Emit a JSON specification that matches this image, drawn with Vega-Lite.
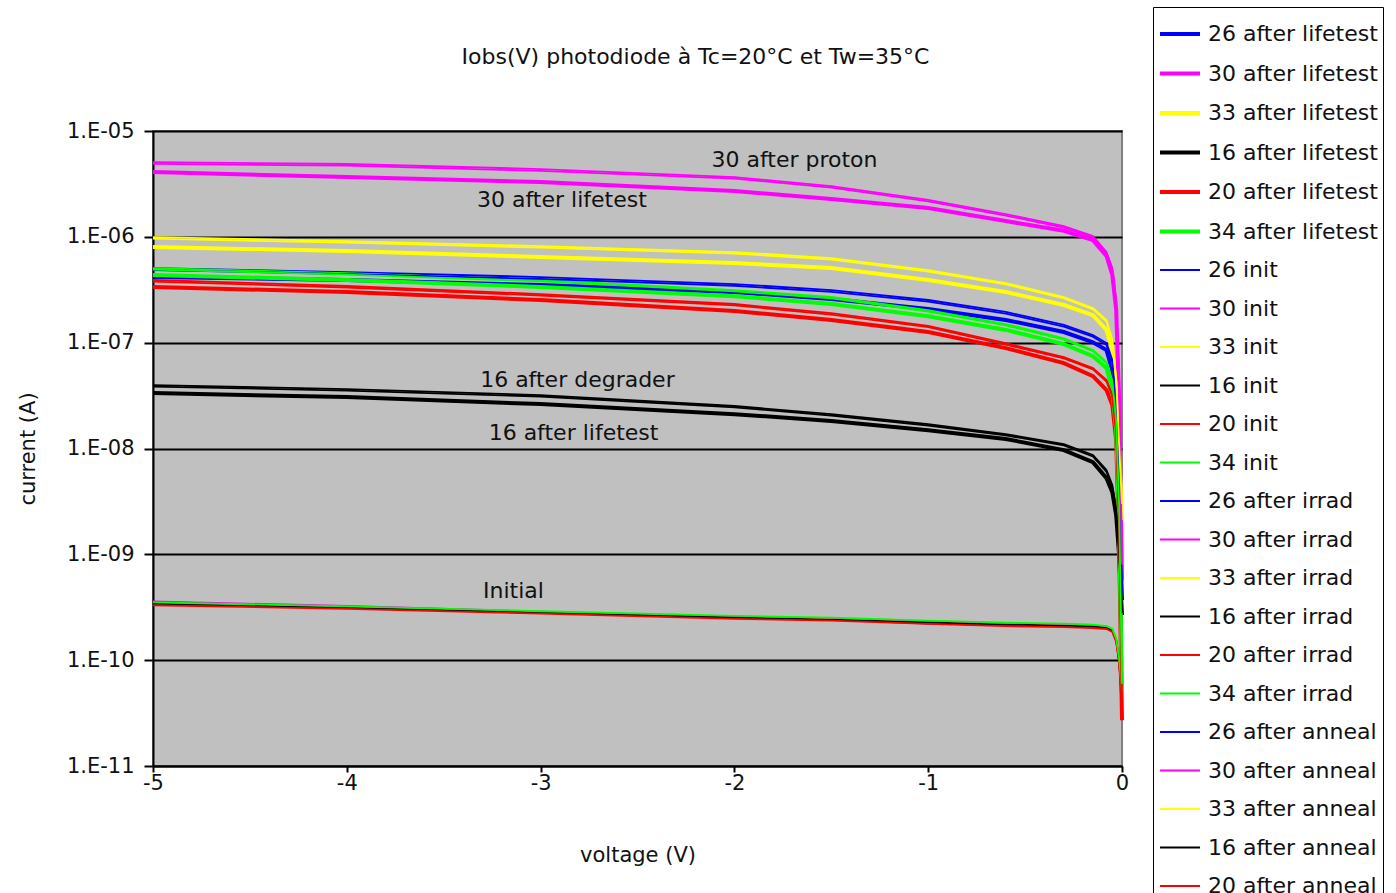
{
  "$schema": "https://vega.github.io/schema/vega-lite/v6.json",
  "autosize": "none",
  "width": 969,
  "height": 635,
  "padding": {"left": 153, "top": 131, "right": 274, "bottom": 127},
  "background": "white",
  "title": {"text": "Iobs(V) photodiode à Tc=20°C et Tw=35°C", "fontSize": 22, "font": "DejaVu Sans", "fontWeight": "normal", "color": "#111", "anchor": "middle", "frame": "group", "dx": 58, "offset": -62},
  "config": {
    "view": {"stroke": "#808080", "strokeWidth": 2, "fill": "#c0c0c0"},
    "font": "DejaVu Sans"
  },
  "datasets": {
    "curves": [
      {"s":"26 after lifetest","v":-5,"c":4.17e-7},{"s":"26 after lifetest","v":-4,"c":3.91e-7},{"s":"26 after lifetest","v":-3,"c":3.50e-7},{"s":"26 after lifetest","v":-2,"c":3.01e-7},{"s":"26 after lifetest","v":-1.5,"c":2.58e-7},{"s":"26 after lifetest","v":-1,"c":2.08e-7},{"s":"26 after lifetest","v":-0.6,"c":1.64e-7},{"s":"26 after lifetest","v":-0.3,"c":1.26e-7},{"s":"26 after lifetest","v":-0.15,"c":1.01e-7},{"s":"26 after lifetest","v":-0.08,"c":8.51e-8},{"s":"26 after lifetest","v":-0.05,"c":5.51e-8},{"s":"26 after lifetest","v":-0.03,"c":1.85e-8},{"s":"26 after lifetest","v":-0.015,"c":3.25e-9},{"s":"26 after lifetest","v":0,"c":3.69e-10},
      {"s":"30 after lifetest","v":-5,"c":4.10e-6},{"s":"30 after lifetest","v":-4,"c":3.67e-6},{"s":"30 after lifetest","v":-3,"c":3.30e-6},{"s":"30 after lifetest","v":-2,"c":2.71e-6},{"s":"30 after lifetest","v":-1.5,"c":2.28e-6},{"s":"30 after lifetest","v":-1,"c":1.87e-6},{"s":"30 after lifetest","v":-0.6,"c":1.41e-6},{"s":"30 after lifetest","v":-0.3,"c":1.14e-6},{"s":"30 after lifetest","v":-0.15,"c":9.3e-7},{"s":"30 after lifetest","v":-0.08,"c":6.59e-7},{"s":"30 after lifetest","v":-0.05,"c":4.36e-7},{"s":"30 after lifetest","v":-0.03,"c":2.03e-7},{"s":"30 after lifetest","v":-0.015,"c":2.87e-8},{"s":"30 after lifetest","v":0,"c":5.7e-10},
      {"s":"33 after lifetest","v":-5,"c":8.01e-7},{"s":"33 after lifetest","v":-4,"c":7.34e-7},{"s":"33 after lifetest","v":-3,"c":6.44e-7},{"s":"33 after lifetest","v":-2,"c":5.65e-7},{"s":"33 after lifetest","v":-1.5,"c":5.07e-7},{"s":"33 after lifetest","v":-1,"c":3.91e-7},{"s":"33 after lifetest","v":-0.6,"c":3.01e-7},{"s":"33 after lifetest","v":-0.3,"c":2.27e-7},{"s":"33 after lifetest","v":-0.15,"c":1.82e-7},{"s":"33 after lifetest","v":-0.08,"c":1.32e-7},{"s":"33 after lifetest","v":-0.05,"c":8.51e-8},{"s":"33 after lifetest","v":-0.03,"c":3.56e-8},{"s":"33 after lifetest","v":-0.015,"c":9.66e-9},{"s":"33 after lifetest","v":0,"c":2.10e-9},
      {"s":"16 after lifetest","v":-5,"c":3.34e-8},{"s":"16 after lifetest","v":-4,"c":3.06e-8},{"s":"16 after lifetest","v":-3,"c":2.63e-8},{"s":"16 after lifetest","v":-2,"c":2.11e-8},{"s":"16 after lifetest","v":-1.5,"c":1.82e-8},{"s":"16 after lifetest","v":-1,"c":1.49e-8},{"s":"16 after lifetest","v":-0.6,"c":1.23e-8},{"s":"16 after lifetest","v":-0.3,"c":9.66e-9},{"s":"16 after lifetest","v":-0.15,"c":7.43e-9},{"s":"16 after lifetest","v":-0.08,"c":5.25e-9},{"s":"16 after lifetest","v":-0.05,"c":3.87e-9},{"s":"16 after lifetest","v":-0.03,"c":2.35e-9},{"s":"16 after lifetest","v":-0.015,"c":9.82e-10},{"s":"16 after lifetest","v":0,"c":2.66e-10},
      {"s":"20 after lifetest","v":-5,"c":3.36e-7},{"s":"20 after lifetest","v":-4,"c":3.01e-7},{"s":"20 after lifetest","v":-3,"c":2.53e-7},{"s":"20 after lifetest","v":-2,"c":1.99e-7},{"s":"20 after lifetest","v":-1.5,"c":1.64e-7},{"s":"20 after lifetest","v":-1,"c":1.26e-7},{"s":"20 after lifetest","v":-0.6,"c":8.89e-8},{"s":"20 after lifetest","v":-0.3,"c":6.41e-8},{"s":"20 after lifetest","v":-0.15,"c":4.83e-8},{"s":"20 after lifetest","v":-0.08,"c":3.56e-8},{"s":"20 after lifetest","v":-0.05,"c":2.57e-8},{"s":"20 after lifetest","v":-0.03,"c":1.20e-8},{"s":"20 after lifetest","v":-0.015,"c":1.36e-9},{"s":"20 after lifetest","v":0,"c":2.71e-11},
      {"s":"34 after lifetest","v":-5,"c":4.36e-7},{"s":"34 after lifetest","v":-4,"c":3.91e-7},{"s":"34 after lifetest","v":-3,"c":3.36e-7},{"s":"34 after lifetest","v":-2,"c":2.75e-7},{"s":"34 after lifetest","v":-1.5,"c":2.32e-7},{"s":"34 after lifetest","v":-1,"c":1.78e-7},{"s":"34 after lifetest","v":-0.6,"c":1.32e-7},{"s":"34 after lifetest","v":-0.3,"c":9.70e-8},{"s":"34 after lifetest","v":-0.15,"c":7.46e-8},{"s":"34 after lifetest","v":-0.08,"c":5.75e-8},{"s":"34 after lifetest","v":-0.05,"c":3.56e-8},{"s":"34 after lifetest","v":-0.03,"c":1.49e-8},{"s":"34 after lifetest","v":-0.015,"c":2.10e-9},{"s":"34 after lifetest","v":0,"c":5.20e-11},
      {"s":"26 init","v":-5,"c":3.40e-10},{"s":"26 init","v":-4,"c":3.12e-10},{"s":"26 init","v":-3,"c":2.80e-10},{"s":"26 init","v":-2,"c":2.50e-10},{"s":"26 init","v":-1.5,"c":2.40e-10},{"s":"26 init","v":-1,"c":2.22e-10},{"s":"26 init","v":-0.6,"c":2.15e-10},{"s":"26 init","v":-0.3,"c":2.10e-10},{"s":"26 init","v":-0.15,"c":2.07e-10},{"s":"26 init","v":-0.08,"c":2.02e-10},{"s":"26 init","v":-0.05,"c":1.90e-10},{"s":"26 init","v":-0.03,"c":1.55e-10},{"s":"26 init","v":-0.015,"c":1.00e-10},{"s":"26 init","v":0,"c":4.0e-11},
      {"s":"30 init","v":-5,"c":3.60e-10},{"s":"30 init","v":-4,"c":3.25e-10},{"s":"30 init","v":-3,"c":2.88e-10},{"s":"30 init","v":-2,"c":2.58e-10},{"s":"30 init","v":-1.5,"c":2.47e-10},{"s":"30 init","v":-1,"c":2.31e-10},{"s":"30 init","v":-0.6,"c":2.21e-10},{"s":"30 init","v":-0.3,"c":2.16e-10},{"s":"30 init","v":-0.15,"c":2.12e-10},{"s":"30 init","v":-0.08,"c":2.07e-10},{"s":"30 init","v":-0.05,"c":1.94e-10},{"s":"30 init","v":-0.03,"c":1.57e-10},{"s":"30 init","v":-0.015,"c":1.02e-10},{"s":"30 init","v":0,"c":4.3e-11},
      {"s":"33 init","v":-5,"c":3.45e-10},{"s":"33 init","v":-4,"c":3.15e-10},{"s":"33 init","v":-3,"c":2.83e-10},{"s":"33 init","v":-2,"c":2.54e-10},{"s":"33 init","v":-1.5,"c":2.43e-10},{"s":"33 init","v":-1,"c":2.28e-10},{"s":"33 init","v":-0.6,"c":2.18e-10},{"s":"33 init","v":-0.3,"c":2.13e-10},{"s":"33 init","v":-0.15,"c":2.09e-10},{"s":"33 init","v":-0.08,"c":2.04e-10},{"s":"33 init","v":-0.05,"c":1.91e-10},{"s":"33 init","v":-0.03,"c":1.54e-10},{"s":"33 init","v":-0.015,"c":9.9e-11},{"s":"33 init","v":0,"c":4.1e-11},
      {"s":"16 init","v":-5,"c":3.42e-10},{"s":"16 init","v":-4,"c":3.14e-10},{"s":"16 init","v":-3,"c":2.82e-10},{"s":"16 init","v":-2,"c":2.53e-10},{"s":"16 init","v":-1.5,"c":2.42e-10},{"s":"16 init","v":-1,"c":2.27e-10},{"s":"16 init","v":-0.6,"c":2.17e-10},{"s":"16 init","v":-0.3,"c":2.12e-10},{"s":"16 init","v":-0.15,"c":2.08e-10},{"s":"16 init","v":-0.08,"c":2.03e-10},{"s":"16 init","v":-0.05,"c":1.90e-10},{"s":"16 init","v":-0.03,"c":1.53e-10},{"s":"16 init","v":-0.015,"c":9.8e-11},{"s":"16 init","v":0,"c":4.0e-11},
      {"s":"20 init","v":-5,"c":3.30e-10},{"s":"20 init","v":-4,"c":3.05e-10},{"s":"20 init","v":-3,"c":2.75e-10},{"s":"20 init","v":-2,"c":2.46e-10},{"s":"20 init","v":-1.5,"c":2.36e-10},{"s":"20 init","v":-1,"c":2.20e-10},{"s":"20 init","v":-0.6,"c":2.10e-10},{"s":"20 init","v":-0.3,"c":2.05e-10},{"s":"20 init","v":-0.15,"c":2.01e-10},{"s":"20 init","v":-0.08,"c":1.97e-10},{"s":"20 init","v":-0.05,"c":1.85e-10},{"s":"20 init","v":-0.03,"c":1.48e-10},{"s":"20 init","v":-0.015,"c":9.5e-11},{"s":"20 init","v":0,"c":3.0e-11},
      {"s":"34 init","v":-5,"c":3.52e-10},{"s":"34 init","v":-4,"c":3.22e-10},{"s":"34 init","v":-3,"c":2.90e-10},{"s":"34 init","v":-2,"c":2.62e-10},{"s":"34 init","v":-1.5,"c":2.52e-10},{"s":"34 init","v":-1,"c":2.36e-10},{"s":"34 init","v":-0.6,"c":2.26e-10},{"s":"34 init","v":-0.3,"c":2.21e-10},{"s":"34 init","v":-0.15,"c":2.16e-10},{"s":"34 init","v":-0.08,"c":2.10e-10},{"s":"34 init","v":-0.05,"c":1.98e-10},{"s":"34 init","v":-0.03,"c":1.60e-10},{"s":"34 init","v":-0.015,"c":1.05e-10},{"s":"34 init","v":0,"c":5.0e-11},
      {"s":"26 after irrad","v":-5,"c":5.07e-7},{"s":"26 after irrad","v":-4,"c":4.65e-7},{"s":"26 after irrad","v":-3,"c":4.17e-7},{"s":"26 after irrad","v":-2,"c":3.58e-7},{"s":"26 after irrad","v":-1.5,"c":3.14e-7},{"s":"26 after irrad","v":-1,"c":2.53e-7},{"s":"26 after irrad","v":-0.6,"c":1.95e-7},{"s":"26 after irrad","v":-0.3,"c":1.47e-7},{"s":"26 after irrad","v":-0.15,"c":1.18e-7},{"s":"26 after irrad","v":-0.08,"c":9.91e-8},{"s":"26 after irrad","v":-0.05,"c":6.85e-8},{"s":"26 after irrad","v":-0.03,"c":2.87e-8},{"s":"26 after irrad","v":-0.015,"c":6.25e-9},{"s":"26 after irrad","v":0,"c":4.59e-10},
      {"s":"30 after irrad","v":-5,"c":5.09e-6},{"s":"30 after irrad","v":-4,"c":4.88e-6},{"s":"30 after irrad","v":-3,"c":4.37e-6},{"s":"30 after irrad","v":-2,"c":3.67e-6},{"s":"30 after irrad","v":-1.5,"c":3.02e-6},{"s":"30 after irrad","v":-1,"c":2.23e-6},{"s":"30 after irrad","v":-0.6,"c":1.64e-6},{"s":"30 after irrad","v":-0.3,"c":1.26e-6},{"s":"30 after irrad","v":-0.15,"c":1.02e-6},{"s":"30 after irrad","v":-0.08,"c":7.18e-7},{"s":"30 after irrad","v":-0.05,"c":5.07e-7},{"s":"30 after irrad","v":-0.03,"c":2.53e-7},{"s":"30 after irrad","v":-0.015,"c":4.43e-8},{"s":"30 after irrad","v":0,"c":8.8e-10},
      {"s":"33 after irrad","v":-5,"c":9.95e-7},{"s":"33 after irrad","v":-4,"c":9.12e-7},{"s":"33 after irrad","v":-3,"c":8.18e-7},{"s":"33 after irrad","v":-2,"c":7.18e-7},{"s":"33 after irrad","v":-1.5,"c":6.30e-7},{"s":"33 after irrad","v":-1,"c":4.85e-7},{"s":"33 after irrad","v":-0.6,"c":3.66e-7},{"s":"33 after irrad","v":-0.3,"c":2.70e-7},{"s":"33 after irrad","v":-0.15,"c":2.12e-7},{"s":"33 after irrad","v":-0.08,"c":1.64e-7},{"s":"33 after irrad","v":-0.05,"c":1.06e-7},{"s":"33 after irrad","v":-0.03,"c":4.43e-8},{"s":"33 after irrad","v":-0.015,"c":1.20e-8},{"s":"33 after irrad","v":0,"c":3.25e-9},
      {"s":"16 after irrad","v":-5,"c":3.97e-8},{"s":"16 after irrad","v":-4,"c":3.64e-8},{"s":"16 after irrad","v":-3,"c":3.20e-8},{"s":"16 after irrad","v":-2,"c":2.52e-8},{"s":"16 after irrad","v":-1.5,"c":2.11e-8},{"s":"16 after irrad","v":-1,"c":1.70e-8},{"s":"16 after irrad","v":-0.6,"c":1.37e-8},{"s":"16 after irrad","v":-0.3,"c":1.10e-8},{"s":"16 after irrad","v":-0.15,"c":8.67e-9},{"s":"16 after irrad","v":-0.08,"c":6.25e-9},{"s":"16 after irrad","v":-0.05,"c":4.51e-9},{"s":"16 after irrad","v":-0.03,"c":2.62e-9},{"s":"16 after irrad","v":-0.015,"c":1.10e-9},{"s":"16 after irrad","v":0,"c":2.97e-10},
      {"s":"20 after irrad","v":-5,"c":3.91e-7},{"s":"20 after irrad","v":-4,"c":3.43e-7},{"s":"20 after irrad","v":-3,"c":2.88e-7},{"s":"20 after irrad","v":-2,"c":2.32e-7},{"s":"20 after irrad","v":-1.5,"c":1.90e-7},{"s":"20 after irrad","v":-1,"c":1.44e-7},{"s":"20 after irrad","v":-0.6,"c":9.91e-8},{"s":"20 after irrad","v":-0.3,"c":7.31e-8},{"s":"20 after irrad","v":-0.15,"c":5.75e-8},{"s":"20 after irrad","v":-0.08,"c":4.43e-8},{"s":"20 after irrad","v":-0.05,"c":3.20e-8},{"s":"20 after irrad","v":-0.03,"c":1.49e-8},{"s":"20 after irrad","v":-0.015,"c":2.10e-9},{"s":"20 after irrad","v":0,"c":3.02e-11},
      {"s":"34 after irrad","v":-5,"c":5.07e-7},{"s":"34 after irrad","v":-4,"c":4.55e-7},{"s":"34 after irrad","v":-3,"c":3.91e-7},{"s":"34 after irrad","v":-2,"c":3.14e-7},{"s":"34 after irrad","v":-1.5,"c":2.70e-7},{"s":"34 after irrad","v":-1,"c":2.03e-7},{"s":"34 after irrad","v":-0.6,"c":1.50e-7},{"s":"34 after irrad","v":-0.3,"c":1.10e-7},{"s":"34 after irrad","v":-0.15,"c":8.51e-8},{"s":"34 after irrad","v":-0.08,"c":6.56e-8},{"s":"34 after irrad","v":-0.05,"c":4.43e-8},{"s":"34 after irrad","v":-0.03,"c":1.85e-8},{"s":"34 after irrad","v":-0.015,"c":3.25e-9},{"s":"34 after irrad","v":0,"c":6.47e-11},
      {"s":"26 after anneal","v":-5,"c":4.85e-7},{"s":"26 after anneal","v":-4,"c":4.45e-7},{"s":"26 after anneal","v":-3,"c":4.00e-7},{"s":"26 after anneal","v":-2,"c":3.45e-7},{"s":"26 after anneal","v":-1.5,"c":3.02e-7},{"s":"26 after anneal","v":-1,"c":2.44e-7},{"s":"26 after anneal","v":-0.6,"c":1.88e-7},{"s":"26 after anneal","v":-0.3,"c":1.42e-7},{"s":"26 after anneal","v":-0.15,"c":1.14e-7},{"s":"26 after anneal","v":-0.08,"c":9.5e-8},{"s":"26 after anneal","v":-0.05,"c":6.5e-8},{"s":"26 after anneal","v":-0.03,"c":2.6e-8},{"s":"26 after anneal","v":-0.015,"c":5.5e-9},{"s":"26 after anneal","v":0,"c":4.2e-10},
      {"s":"30 after anneal","v":-5,"c":4.9e-6},{"s":"30 after anneal","v":-4,"c":4.7e-6},{"s":"30 after anneal","v":-3,"c":4.2e-6},{"s":"30 after anneal","v":-2,"c":3.55e-6},{"s":"30 after anneal","v":-1.5,"c":2.92e-6},{"s":"30 after anneal","v":-1,"c":2.16e-6},{"s":"30 after anneal","v":-0.6,"c":1.59e-6},{"s":"30 after anneal","v":-0.3,"c":1.22e-6},{"s":"30 after anneal","v":-0.15,"c":9.9e-7},{"s":"30 after anneal","v":-0.08,"c":7.0e-7},{"s":"30 after anneal","v":-0.05,"c":4.9e-7},{"s":"30 after anneal","v":-0.03,"c":2.4e-7},{"s":"30 after anneal","v":-0.015,"c":4.0e-8},{"s":"30 after anneal","v":0,"c":8.0e-10},
      {"s":"33 after anneal","v":-5,"c":9.6e-7},{"s":"33 after anneal","v":-4,"c":8.8e-7},{"s":"33 after anneal","v":-3,"c":7.9e-7},{"s":"33 after anneal","v":-2,"c":6.95e-7},{"s":"33 after anneal","v":-1.5,"c":6.1e-7},{"s":"33 after anneal","v":-1,"c":4.7e-7},{"s":"33 after anneal","v":-0.6,"c":3.55e-7},{"s":"33 after anneal","v":-0.3,"c":2.62e-7},{"s":"33 after anneal","v":-0.15,"c":2.06e-7},{"s":"33 after anneal","v":-0.08,"c":1.58e-7},{"s":"33 after anneal","v":-0.05,"c":1.02e-7},{"s":"33 after anneal","v":-0.03,"c":4.2e-8},{"s":"33 after anneal","v":-0.015,"c":1.1e-8},{"s":"33 after anneal","v":0,"c":3.0e-9},
      {"s":"16 after anneal","v":-5,"c":3.85e-8},{"s":"16 after anneal","v":-4,"c":3.53e-8},{"s":"16 after anneal","v":-3,"c":3.1e-8},{"s":"16 after anneal","v":-2,"c":2.45e-8},{"s":"16 after anneal","v":-1.5,"c":2.05e-8},{"s":"16 after anneal","v":-1,"c":1.65e-8},{"s":"16 after anneal","v":-0.6,"c":1.33e-8},{"s":"16 after anneal","v":-0.3,"c":1.07e-8},{"s":"16 after anneal","v":-0.15,"c":8.4e-9},{"s":"16 after anneal","v":-0.08,"c":6.0e-9},{"s":"16 after anneal","v":-0.05,"c":4.3e-9},{"s":"16 after anneal","v":-0.03,"c":2.5e-9},{"s":"16 after anneal","v":-0.015,"c":1.05e-9},{"s":"16 after anneal","v":0,"c":2.8e-10},
      {"s":"20 after anneal","v":-5,"c":3.78e-7},{"s":"20 after anneal","v":-4,"c":3.32e-7},{"s":"20 after anneal","v":-3,"c":2.79e-7},{"s":"20 after anneal","v":-2,"c":2.25e-7},{"s":"20 after anneal","v":-1.5,"c":1.84e-7},{"s":"20 after anneal","v":-1,"c":1.40e-7},{"s":"20 after anneal","v":-0.6,"c":9.6e-8},{"s":"20 after anneal","v":-0.3,"c":7.1e-8},{"s":"20 after anneal","v":-0.15,"c":5.6e-8},{"s":"20 after anneal","v":-0.08,"c":4.3e-8},{"s":"20 after anneal","v":-0.05,"c":3.1e-8},{"s":"20 after anneal","v":-0.03,"c":1.4e-8},{"s":"20 after anneal","v":-0.015,"c":1.9e-9},{"s":"20 after anneal","v":0,"c":2.9e-11},
      {"s":"34 after anneal","v":-5,"c":4.9e-7},{"s":"34 after anneal","v":-4,"c":4.4e-7},{"s":"34 after anneal","v":-3,"c":3.8e-7},{"s":"34 after anneal","v":-2,"c":3.05e-7},{"s":"34 after anneal","v":-1.5,"c":2.62e-7},{"s":"34 after anneal","v":-1,"c":1.97e-7},{"s":"34 after anneal","v":-0.6,"c":1.46e-7},{"s":"34 after anneal","v":-0.3,"c":1.07e-7},{"s":"34 after anneal","v":-0.15,"c":8.3e-8},{"s":"34 after anneal","v":-0.08,"c":6.4e-8},{"s":"34 after anneal","v":-0.05,"c":4.3e-8},{"s":"34 after anneal","v":-0.03,"c":1.8e-8},{"s":"34 after anneal","v":-0.015,"c":3.0e-9},{"s":"34 after anneal","v":0,"c":6.0e-11}
    ],
    "labels": [
      {"v": -1.69, "c": 5.3e-6, "text": "30 after proton"},
      {"v": -2.89, "c": 2.23e-6, "text": "30 after lifetest"},
      {"v": -2.81, "c": 4.43e-8, "text": "16 after degrader"},
      {"v": -2.83, "c": 1.40e-8, "text": "16 after lifetest"},
      {"v": -3.14, "c": 4.49e-10, "text": "Initial"}
    ]
  },
  "encoding": {
    "x": {
      "field": "v", "type": "quantitative",
      "scale": {"domain": [-5, 0], "nice": false, "zero": false},
      "axis": {"title": "voltage (V)", "values": [-5, -4, -3, -2, -1, 0], "labelExpr": "datum.value == 0 ? '0' : '-' + abs(datum.value)", "labelFlush": false, "grid": false, "domainColor": "black", "domainWidth": 2, "tickColor": "black", "tickWidth": 2, "tickSize": 6, "labelPadding": 0, "labelFontSize": 21, "labelColor": "#111", "titleFontSize": 21, "titleFontWeight": "normal", "titleColor": "#111", "titlePadding": 51, "labelFont": "DejaVu Sans", "titleFont": "DejaVu Sans"}
    },
    "y": {
      "field": "c", "type": "quantitative",
      "scale": {"type": "log", "domain": [1e-11, 1e-5], "nice": false},
      "axis": {"title": "current (A)", "values": [1e-11, 1e-10, 1e-9, 1e-8, 1e-7, 1e-6, 1e-5], "labelExpr": "'1.E-' + (abs(round(log(datum.value)/LN10)) < 10 ? '0' : '') + abs(round(log(datum.value)/LN10))", "labelFlush": false, "grid": true, "gridColor": "black", "gridWidth": 2, "gridOpacity": 1, "domainColor": "black", "domainWidth": 2, "tickColor": "black", "tickWidth": 2, "tickSize": 9, "labelPadding": 10, "labelFontSize": 21, "labelColor": "#111", "titleFontSize": 21, "titleFontWeight": "normal", "titleColor": "#111", "titlePadding": 28, "labelFont": "DejaVu Sans", "titleFont": "DejaVu Sans"}
    }
  },
  "layer": [
    {
      "data": {"name": "curves"},
      "mark": {"type": "line"},
      "encoding": {
        "color": {
          "field": "s", "type": "nominal",
          "scale": {
            "domain": ["26 after lifetest", "30 after lifetest", "33 after lifetest", "16 after lifetest", "20 after lifetest", "34 after lifetest", "26 init", "30 init", "33 init", "16 init", "20 init", "34 init", "26 after irrad", "30 after irrad", "33 after irrad", "16 after irrad", "20 after irrad", "34 after irrad", "26 after anneal", "30 after anneal", "33 after anneal", "16 after anneal", "20 after anneal", "34 after anneal"],
            "range": ["#0000ff", "#ff00ff", "#ffff00", "#000000", "#ff0000", "#00ff00", "#0000ff", "#ff00ff", "#ffff00", "#000000", "#ff0000", "#00ff00", "#0000ff", "#ff00ff", "#ffff00", "#000000", "#ff0000", "#00ff00", "#0000ff", "#ff00ff", "#ffff00", "#000000", "#ff0000", "#00ff00"]
          },
          "legend": {
            "title": null, "orient": "none", "legendX": 1000, "legendY": -124,
            "symbolType": "stroke", "symbolSize": 1600,
            "labelFontSize": 22, "labelFont": "DejaVu Sans", "labelColor": "#111", "labelLimit": 400,
            "strokeColor": "black", "fillColor": "white", "padding": 5, "rowPadding": 6.5, "labelOffset": 6
          }
        },
        "strokeWidth": {
          "field": "s", "type": "nominal",
          "scale": {
            "type": "ordinal",
            "domain": ["26 after lifetest", "30 after lifetest", "33 after lifetest", "16 after lifetest", "20 after lifetest", "34 after lifetest", "26 init", "30 init", "33 init", "16 init", "20 init", "34 init", "26 after irrad", "30 after irrad", "33 after irrad", "16 after irrad", "20 after irrad", "34 after irrad", "26 after anneal", "30 after anneal", "33 after anneal", "16 after anneal", "20 after anneal", "34 after anneal"],
            "range": [4, 4, 4, 4, 4, 4, 1.8, 1.8, 1.8, 1.8, 1.8, 1.8, 1.8, 1.8, 1.8, 1.8, 1.8, 1.8, 1.8, 1.8, 1.8, 1.8, 1.8, 1.8]
          },
          "legend": {
            "title": null, "orient": "none", "legendX": 1000, "legendY": -124,
            "symbolType": "stroke", "symbolSize": 1600,
            "labelFontSize": 22, "labelFont": "DejaVu Sans", "labelColor": "#111", "labelLimit": 400,
            "strokeColor": "black", "fillColor": "white", "padding": 5, "rowPadding": 6.5, "labelOffset": 6
          }
        }
      }
    },
    {
      "data": {"name": "labels"},
      "mark": {"type": "text", "fontSize": 22, "font": "DejaVu Sans", "color": "#111", "align": "center", "baseline": "middle"},
      "encoding": {
        "text": {"field": "text"}
      }
    }
  ]
}
